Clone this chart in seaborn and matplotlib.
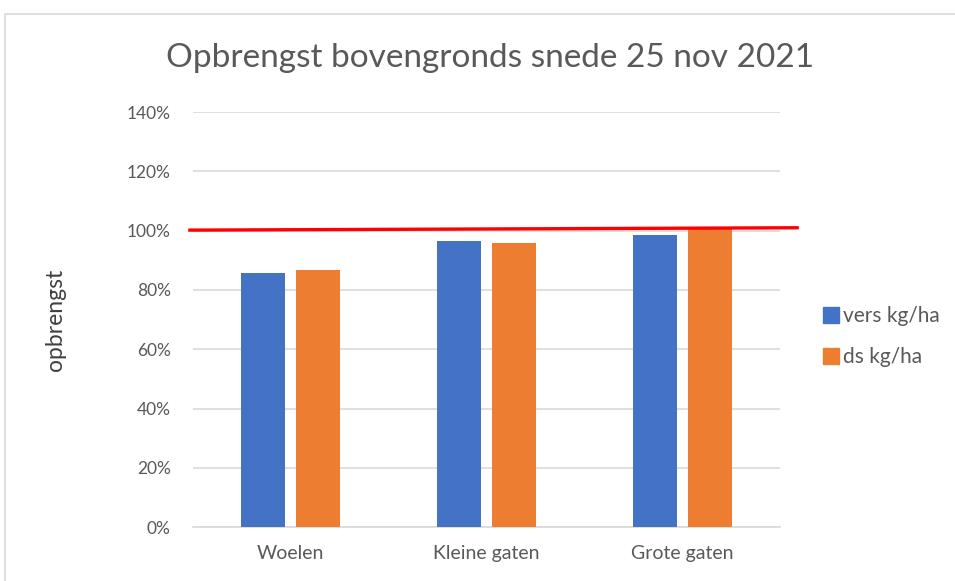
import matplotlib
matplotlib.use("Agg")
import matplotlib.pyplot as plt
import seaborn as sns
import pandas as pd
from matplotlib.patches import Rectangle
from matplotlib.lines import Line2D

categories = ["Woelen", "Kleine gaten", "Grote gaten"]
series_names = ["vers kg/ha", "ds kg/ha"]
vers = [0.857, 0.965, 0.984]
ds = [0.866, 0.957, 1.008]
yticks = [0, 0.2, 0.4, 0.6, 0.8, 1.0, 1.2, 1.4]
ytick_labels = ["0%", "20%", "40%", "60%", "80%", "100%", "120%", "140%"]
ref_line_x = [-0.524, 2.595]
ref_line_y = [1.002, 1.010]
colors = ["#4472C4", "#ED7D31"]

df = pd.DataFrame({
    "cat": categories * 2,
    "serie": [series_names[0]] * 3 + [series_names[1]] * 3,
    "val": vers + ds,
})

sns.set_style("white")
plt.rcParams["font.family"] = ["Lato", "DejaVu Sans"]

fig = plt.figure(figsize=(9.55, 5.81), dpi=100)
ax = fig.add_axes([0.202, 0.0929, 0.615, 0.714])

sns.barplot(data=df, x="cat", y="val", hue="serie", palette=colors,
            saturation=1, width=0.56, gap=0.2, ax=ax, legend=False,
            zorder=3, edgecolor="none")

ax.set_xlim(-0.5, 2.5)
ax.set_ylim(0, 1.4)
ax.set_yticks(yticks)
ax.set_yticklabels(ytick_labels)
ax.yaxis.grid(True, color="#d9d9d9", linewidth=1.2, zorder=0)
ax.set_axisbelow(True)
for s in ["top", "right", "left"]:
    ax.spines[s].set_visible(False)
ax.spines["bottom"].set_color("#d9d9d9")
ax.spines["bottom"].set_linewidth(1.2)
ax.tick_params(axis="y", length=0, labelsize=12.5, labelcolor="#595959", pad=16)
ax.tick_params(axis="x", length=0, labelsize=14, labelcolor="#595959", pad=13)
ax.set_xlabel("")
ax.set_ylabel("opbrengst", fontsize=16.5, color="#404040", labelpad=44)

ax.plot(ref_line_x, ref_line_y, color="#FF0000", linewidth=2.4,
        clip_on=False, zorder=5, solid_capstyle="butt")

fig.text(0.513, 0.90, "Opbrengst bovengronds snede 25 nov 2021",
         ha="center", va="center", fontsize=24, color="#595959")

handles = [Line2D([0], [0], marker="s", linestyle="none", markersize=11,
                  markerfacecolor=c, markeredgecolor=c) for c in colors]
fig.legend(handles, series_names, loc="center left",
           bbox_to_anchor=(0.84, 0.421), frameon=False, fontsize=15,
           labelcolor="#595959", handletextpad=0.05, labelspacing=1.0,
           handlelength=1.0)

fig.patches.append(Rectangle((0.005, -0.05), 1.1, 1.026, transform=fig.transFigure,
                             fill=False, edgecolor="#d9d9d9", linewidth=1.2))

fig.savefig("out.png", dpi=100)
